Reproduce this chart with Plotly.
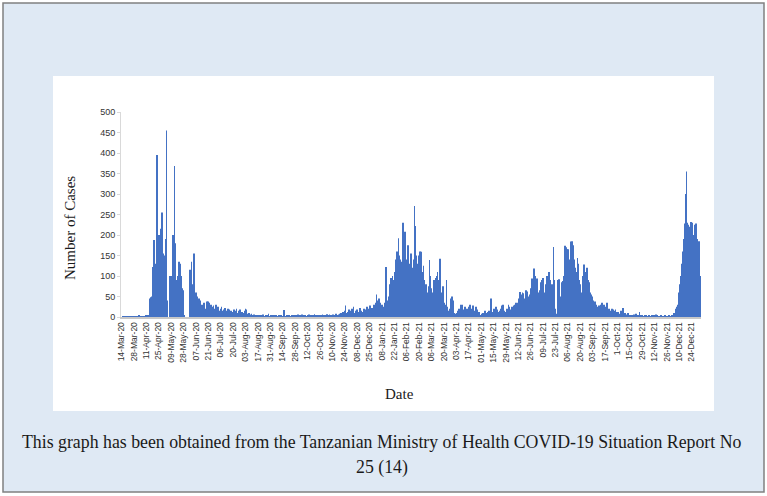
import plotly.graph_objects as go

tick_labels = ["14-Mar-20", "28-Mar-20", "11-Apr-20", "25-Apr-20", "09-May-20", "28-May-20",
               "07-Jun-20", "21-Jun-20", "06-Jul-20", "20-Jul-20", "03-Aug-20", "17-Aug-20",
               "31-Aug-20", "14-Sep-20", "28-Sep-20", "12-Oct-20", "26-Oct-20", "10-Nov-20",
               "24-Nov-20", "08-Dec-20", "25-Dec-20", "08-Jan-21", "22-Jan-21", "06-Feb-21",
               "20-Feb-21", "06-Mar-21", "20-Mar-21", "03-Apr-21", "17-Apr-21", "01-May-21",
               "15-May-21", "29-May-21", "12-Jun-21", "26-Jun-21", "09-Jul-21", "23-Jul-21",
               "06-Aug-21", "20-Aug-21", "03-Sep-21", "17-Sep-21", "1-Oct-21", "15-Oct-21",
               "29-Oct-21", "12-Nov-21", "26-Nov-21", "10-Dec-21", "24-Dec-21"]

# daily cases, one row per 14-day label interval
wave1_2020 = [
    0, 0, 1, 0, 1, 2, 0, 1, 0, 1, 2, 1, 0, 1,
    1, 0, 2, 1, 0, 1, 3, 0, 1, 2, 0, 1, 2, 1,
    3, 5, 2, 4, 45, 48, 50, 70, 122, 188, 130, 90, 395, 200,
    200, 100, 215, 150, 255, 155, 110, 150, 190, 455, 40, 0, 0, 100,
    95, 100, 200, 120, 368, 180, 90, 45, 100, 135, 130, 100, 65, 70,
    65, 5, 0, 0, 0, 0, 0, 115, 60, 135, 30, 80, 155, 55,
    60, 45, 50, 20, 45, 40, 25, 30, 20, 35, 20, 15, 25, 38,
]
lull_2020 = [
    38, 35, 20, 30, 25, 15, 28, 20, 12, 30, 18, 25, 10, 15,
    20, 25, 15, 10, 18, 22, 8, 15, 20, 12, 18, 10, 15, 8,
    12, 18, 8, 15, 20, 10, 6, 15, 18, 8, 12, 5, 10, 15,
    20, 18, 8, 5, 10, 6, 4, 8, 3, 5, 6, 2, 4, 3,
    3, 5, 2, 4, 1, 3, 6, 2, 1, 4, 2, 3, 8, 2,
    2, 3, 1, 4, 2, 5, 2, 3, 1, 2, 4, 2, 3, 1,
    2, 3, 17, 2, 1, 3, 2, 4, 1, 2, 3, 1, 5, 2,
    3, 2, 4, 6, 5, 3, 2, 4, 6, 2, 3, 5, 2, 1,
    4, 2, 6, 3, 2, 5, 1, 3, 7, 2, 4, 3, 5, 2,
    3, 5, 2, 6, 4, 3, 2, 5, 7, 3, 4, 6, 2, 5,
    4, 6, 3, 5, 8, 4, 3, 6, 5, 8, 10, 6, 12, 8,
    15, 28, 10, 8, 12, 18, 10, 15, 20, 12, 25, 10, 8, 15,
    18, 10, 12, 22, 8, 15, 12, 5, 20, 18, 10, 25, 12, 15,
    20, 28, 15, 22, 18, 30, 25, 35, 55, 40, 30, 45, 35, 28,
]
wave2_2021 = [
    30, 25, 20, 35, 30, 122, 40, 25, 50, 80, 95, 60, 100, 70,
    90, 110, 140, 160, 130, 192, 150, 140, 135, 130, 230, 145, 208, 140,
    120, 100, 175, 130, 110, 155, 100, 120, 140, 271, 222, 150, 130, 120,
    150, 160, 159, 110, 100, 125, 90, 70, 80, 60, 50, 75, 139, 100,
    70, 50, 60, 90, 80, 95, 100, 110, 85, 90, 142, 40, 60, 75,
]
mid_2021 = [
    35, 30, 20, 90, 25, 15, 10, 20, 45, 50, 40, 25, 10, 5,
    8, 10, 15, 20, 12, 30, 25, 30, 18, 15, 25, 12, 20, 15,
    25, 20, 30, 15, 20, 28, 15, 10, 25, 20, 18, 8, 12, 5,
    5, 8, 10, 6, 12, 15, 10, 8, 12, 15, 10, 45, 15, 12,
    10, 20, 15, 25, 18, 12, 10, 15, 20, 12, 28, 30, 15, 10,
    12, 20, 15, 30, 25, 18, 12, 25, 20, 28, 30, 25, 35, 30,
    35, 45, 61, 55, 40, 60, 58, 35, 45, 65, 62, 50, 40, 55,
]
wave3_2021 = [
    70, 85, 94, 80, 118, 100, 70, 94, 60, 40, 65, 50, 85, 90,
    95, 60, 25, 80, 90, 100, 95, 110, 90, 70, 80, 40, 171, 90,
    20, 8, 5, 90, 92, 50, 20, 85, 88, 60, 100, 174, 170, 165,
    165, 140, 130, 184, 150, 185, 175, 140, 120, 100, 110, 144, 130, 90,
    80, 60, 50, 100, 128, 90, 80, 110, 120, 90, 85, 60, 55, 50,
    45, 40, 35, 38, 30, 25, 20, 28, 25, 18, 30, 35, 20, 30,
    25, 20, 35, 30, 15, 20, 12, 15, 20, 18, 10, 15, 18, 12,
]
lull_2021 = [
    10, 12, 8, 6, 15, 10, 22, 12, 8, 10, 6, 5, 10, 4,
    5, 3, 2, 4, 3, 6, 2, 8, 3, 4, 2, 12, 3, 2,
    3, 2, 1, 3, 2, 4, 1, 2, 3, 2, 1, 3, 2, 4,
    2, 5, 6, 3, 2, 1, 2, 3, 1, 2, 1, 2, 3, 1,
    2, 1, 3, 2, 1, 2, 3, 5, 10, 8, 20, 25, 30, 45,
]
wave4_2021 = [
    60, 80, 100, 130, 160, 190, 228, 300, 355, 230, 225, 220, 150, 232,
    230, 140, 170, 200, 225, 228, 190, 180, 185, 100, 95,
]

y_ticks = list(range(0, 501, 50))

cases = wave1_2020 + lull_2020 + wave2_2021 + mid_2021 + wave3_2021 + lull_2021 + wave4_2021
days = list(range(len(cases)))
tick_pos = [14 * k for k in range(len(tick_labels))]

W, H = 767, 496
L, R, T, B = 121, 66, 112, 179
PW, PH = W - L - R, H - T - B


def px(x):
    return (x - L) / PW


def py(y):
    return (H - B - y) / PH


fig = go.Figure(go.Bar(x=days, y=cases, marker=dict(color="#4472c4", line=dict(width=0))))

fig.update_layout(
    width=W, height=H,
    margin=dict(l=L, r=R, t=T, b=B, autoexpand=False),
    paper_bgcolor="white", plot_bgcolor="rgba(0,0,0,0)",
    bargap=0.12, showlegend=False,
    font=dict(family="Liberation Sans", color="#404040"),
)
fig.update_xaxes(
    range=[-0.5, len(cases) - 0.5], tickmode="array", tickvals=tick_pos, ticktext=tick_labels,
    tickangle=-90, tickfont=dict(size=8.5, color="#333333", family="Liberation Sans"),
    showline=True, linecolor="#c8c8c8", linewidth=1.5, ticks="", showgrid=False, zeroline=False,
)
fig.update_yaxes(
    range=[0, 500], tickmode="array", tickvals=y_ticks,
    tickfont=dict(size=9, color="#333333", family="Liberation Sans"),
    ticks="outside", ticklen=3, tickcolor="#d9d9d9", showline=True, linecolor="#d9d9d9",
    showgrid=False, zeroline=False,
)

fig.add_shape(type="rect", xref="paper", yref="paper", x0=px(3), x1=px(764), y0=py(492), y1=py(3),
              fillcolor="#dfe9f4", line=dict(color="#808080", width=1.5), layer="below")
fig.add_shape(type="rect", xref="paper", yref="paper", x0=px(53), x1=px(714), y0=py(411), y1=py(76),
              fillcolor="white", line=dict(width=0), layer="below")

serif = "Liberation Serif"
fig.add_annotation(xref="paper", yref="paper", x=px(70), y=py(228), text="Number of Cases", textangle=-90,
                   showarrow=False, font=dict(family=serif, size=15, color="#1a1a1a"),
                   xanchor="center", yanchor="middle")
fig.add_annotation(xref="paper", yref="paper", x=px(399), y=py(394), text="Date",
                   showarrow=False, font=dict(family=serif, size=15, color="#1a1a1a"),
                   xanchor="center", yanchor="middle")
fig.add_annotation(xref="paper", yref="paper", x=px(382), y=py(442),
                   text="This graph has been obtained from the Tanzanian Ministry of Health COVID-19 Situation Report No",
                   showarrow=False, font=dict(family=serif, size=17.8, color="#1a1a1a"),
                   xanchor="center", yanchor="middle")
fig.add_annotation(xref="paper", yref="paper", x=px(382), y=py(467), text="25 (14)",
                   showarrow=False, font=dict(family=serif, size=17.8, color="#1a1a1a"),
                   xanchor="center", yanchor="middle")

fig.write_html("out.html", config={"displayModeBar": False},
               post_script="document.body.style.margin='0';document.body.style.padding='0';")
